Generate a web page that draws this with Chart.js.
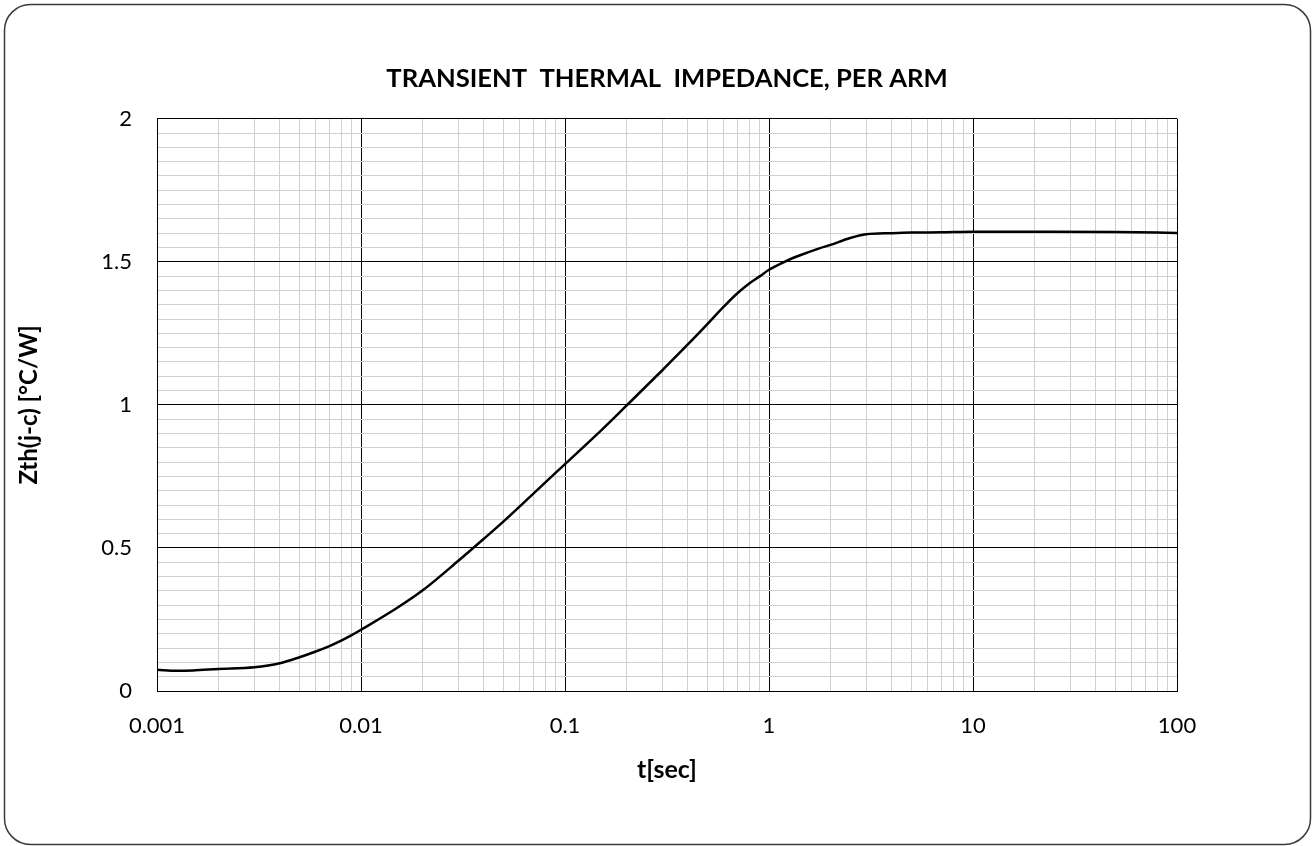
<!DOCTYPE html>
<html>
<head>
<meta charset="utf-8">
<script src="https://cdn.jsdelivr.net/npm/chart.js@4.4.1/dist/chart.umd.min.js"></script>
<style>
  html, body { margin: 0; padding: 0; background: #fff; }
  #wrap { width: 1312px; height: 846px; }
</style>
</head>
<body>
<div id="wrap"><canvas id="canva" width="1312" height="846"></canvas></div>
<script>
// Datos
const tiempos = [0.001, 0.00125, 0.0015, 0.002, 0.003, 0.004, 0.005, 0.006, 0.007, 0.008, 0.009,
  0.01, 0.015, 0.02, 0.03, 0.04, 0.05, 0.07, 0.1, 0.15, 0.2, 0.3, 0.4, 0.5, 0.6, 0.7, 0.8, 0.9,
  1, 1.2, 1.4, 1.75, 2, 2.5, 3, 4, 5, 7, 10, 20, 50, 100];
const zth = [0.074, 0.071, 0.072, 0.077, 0.083, 0.097, 0.118, 0.138, 0.157, 0.176, 0.195,
  0.214, 0.29, 0.351, 0.455, 0.532, 0.593, 0.69, 0.793, 0.91, 0.997, 1.121, 1.211, 1.283, 1.343, 1.39, 1.424, 1.449,
  1.472, 1.501, 1.521, 1.546, 1.559, 1.583, 1.596, 1.6, 1.602, 1.603, 1.605, 1.605, 1.604, 1.601];

// Ticks de los ejes
const decadas = [0.001, 0.01, 0.1, 1, 10, 100];
const yMax = 2;
const yPaso = 0.05;
const yEtiqueta = 0.5;

const titulo = "TRANSIENT  THERMAL  IMPEDANCE, PER ARM";
const tituloX = "t[sec]";
const tituloY = "Zth(j-c) [°C/W]";

const fuente = "Lato, 'Open Sans', sans-serif";

// Ticks del eje x: 1..9 por cada decada
let ticksX = [];
decadas.forEach((d, i) => {
  if (i === decadas.length - 1) {
    ticksX.push(d);
    return;
  }
  for (let m = 1; m <= 9; m++) {
    ticksX.push(Number((d * m).toPrecision(6)));
  }
});

let ticksY = [];
for (let i = 0; i <= Math.round(yMax / yPaso); i++) {
  ticksY.push(Number((i * yPaso).toFixed(2)));
}

function esDecada(v) {
  const l = Math.log10(v);
  return Math.abs(l - Math.round(l)) < 1e-9;
}
function esMayorY(v) {
  const r = v / yEtiqueta;
  return Math.abs(r - Math.round(r)) < 1e-9;
}

// Marco redondeado alrededor de todo
const marco = {
  id: "marco",
  beforeDraw(chart) {
    const ctx = chart.ctx;
    ctx.save();
    ctx.fillStyle = "#fff";
    ctx.fillRect(0, 0, chart.width, chart.height);
    ctx.beginPath();
    ctx.roundRect(4.5, 4.5, 1306, 840, 26);
    ctx.strokeStyle = "#3a3a3a";
    ctx.lineWidth = 1.5;
    ctx.stroke();
    ctx.restore();
  }
};

const canva = document.getElementById("canva").getContext("2d");

new Chart(canva, {
  type: "line",
  data: {
    datasets: [{
      data: tiempos.map((t, i) => ({ x: t, y: zth[i] })),
      borderColor: "#000",
      borderWidth: 2.5,
      pointRadius: 0,
      fill: false,
      cubicInterpolationMode: "monotone"
    }]
  },
  options: {
    responsive: false,
    animation: false,
    events: [],
    layout: { padding: { left: 0, right: 135, top: 0, bottom: 0 } },
    plugins: {
      legend: { display: false },
      tooltip: { enabled: false },
      title: {
        display: true,
        text: titulo,
        fullSize: false,
        color: "#000",
        font: { family: fuente, size: 25.6, weight: "bold" },
        padding: { top: 63, bottom: 25 }
      }
    },
    scales: {
      x: {
        type: "logarithmic",
        min: 0.001,
        max: 100,
        afterBuildTicks: (s) => { s.ticks = ticksX.map(v => ({ value: v })); },
        afterFit: (s) => { s.height = 155; },
        ticks: {
          autoSkip: false,
          maxRotation: 0,
          padding: 22,
          color: "#000",
          font: { family: fuente, size: 22 },
          callback: (v) => esDecada(v) ? String(v) : ""
        },
        grid: {
          drawTicks: false,
          color: (c) => esDecada(c.tick.value) ? "#000" : "#d0d0d0",
          lineWidth: 1
        },
        border: { color: "#000", width: 1 },
        title: {
          display: true,
          text: tituloX,
          color: "#000",
          font: { family: fuente, size: 25, weight: "bold" },
          padding: { top: 0, bottom: 61 }
        }
      },
      y: {
        type: "linear",
        min: 0,
        max: yMax,
        afterBuildTicks: (s) => { s.ticks = ticksY.map(v => ({ value: v })); },
        afterFit: (s) => { s.width = 157; },
        ticks: {
          autoSkip: false,
          padding: 25,
          color: "#000",
          font: { family: fuente, size: 22 },
          callback: (v) => esMayorY(v) ? String(v) : ""
        },
        grid: {
          drawTicks: false,
          color: (c) => esMayorY(c.tick.value) ? "#000" : "#d0d0d0",
          lineWidth: 1
        },
        border: { color: "#000", width: 1 },
        title: {
          display: true,
          text: tituloY,
          color: "#000",
          font: { family: fuente, size: 24, weight: "bold" },
          padding: { top: 15, bottom: 0 }
        }
      }
    }
  },
  plugins: [marco]
});
</script>
</body>
</html>
